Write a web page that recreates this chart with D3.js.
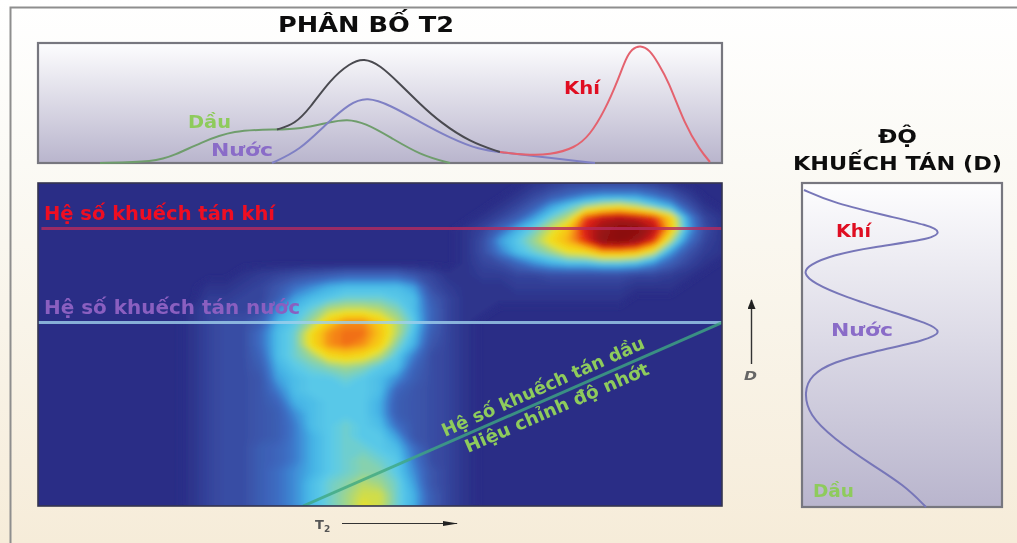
<!DOCTYPE html>
<html>
<head>
<meta charset="utf-8">
<script src="https://cdn.jsdelivr.net/npm/d3@7"></script>
<style>
  html, body { margin: 0; padding: 0; overflow: hidden; background: #fff; }
  svg { display: block; }
  text { font-family: "DejaVu Sans", sans-serif; font-weight: 700; }
</style>
</head>
<body>
<svg id="chart" width="1017" height="543"></svg>
<script>
// T2 distribution curves, [T2, amplitude]
const oilT2 = [[62,0],[117,1],[137,8],[162,20],[195,33],[239,33.5],[262,34],[292,41],[309,44],[327,40],[352,26],[382,8],[412,0]];
const waterT2 = [[234,0],[262,13],[287,38],[312,60],[329,66],[352,58],[382,41],[412,25],[442,13],[462,11],[512,5],[557,0]];
const totalT2 = [[239,33.5],[257,39],[272,55],[292,83],[312,100],[326,105],[342,98],[362,79],[382,59],[402,41],[432,21],[462,11]];
const gasT2 = [[462,11],[487,8],[512,8],[537,15],[552,28],[567,53],[580,83],[588,105],[594,114],[602,118],[612,113],[620,100],[630,83],[647,38],[662,13],[672,1]];

// diffusion profile, [amplitude, D position]
const profileD = [[2,7],[31,20],[90,34],[125,42],[141,49],[125,57],[70,64],[31,72],[7,82],[1,90],[11,100],[43,114],[90,129],[125,140],[141,149],[125,157],[70,169],[31,179],[9,192],[2,209],[7,232],[31,255],[70,282],[102,302],[124,324]];

// T2-D map, one character per cell, level in base 36
const heatStart = [29,28,27,26,25,25,25,25,12,10,10,9,9,9,9,9,9,9,9,9,9,9,9,9,9,9,9,9,9];
const heatRows = [
  "123333321",
  "13579aaa852",
  "136behjkifc51",
  "136bfiruvusmb31",
  "137cfjntxzzvnc41",
  "14behlosyzxsi931",
  "149dfhkloonjb521",
  "1347acddeeda631",
  "12345677775311223344444332100",
  "112358acddddb421112222222111",
  "22336bdefffed631111111111",
  "13334adfijjigd7311",
  "13446cehmppmie731",
  "13448dflpqqnid631",
  "13448dflpqpmgc531",
  "13447dfhlmlie9431",
  "13446cefghged7431",
  "13445bdeefeda6431",
  "134459deeeed75431",
  "134457cdeeec65431",
  "134456adeeec65431",
  "1344569defed85431",
  "1344569cefeeb5431",
  "1344679ceffed8431",
  "1344679cefgfe9431",
  "134468acefggea531",
  "134468adfgihfb531",
  "134468adfhjjfc631",
  "134468adfhkjfc631"
];
const heatLevels = [0, 4, 8, 10, 12, 14, 17, 20, 23, 25, 28, 32, 35];
const heatColors = ["#2a2d86", "#3a50a6", "#3d6fc4", "#3f90d8", "#45b4e6", "#5ccbe8", "#a4d684", "#f0e21f", "#f8c015", "#f58a12", "#e32312", "#a01414", "#8a1010"];

// reference lines on the map, [column, row]
const gasLine = [[0.2, 3.95], [40, 3.95]];
const waterLine = [[0, 12.1], [40, 12.1]];
const oilLine = [[15.5, 28], [40, 12.1]];

const svg = d3.select("#chart");
const defs = svg.append("defs");

function vGradient(id, stops) {
    const g = defs.append("linearGradient").attr("id", id)
        .attr("x1", 0).attr("y1", 0).attr("x2", 0).attr("y2", 1);
    stops.forEach(s => g.append("stop").attr("offset", s[0]).attr("stop-color", s[1]));
}
vGradient("page-bg", [[0, "#ffffff"], [0.3, "#fbfaf5"], [1, "#f6ecd9"]]);
vGradient("panel-bg", [[0, "#fdfdfe"], [1, "#b9b5cd"]]);

defs.append("filter").attr("id", "soft").attr("x", "-5%").attr("y", "-5%").attr("width", "110%").attr("height", "110%")
    .append("feGaussianBlur").attr("stdDeviation", 2.4);
defs.append("filter").attr("id", "soft-text").attr("x", "-5%").attr("y", "-20%").attr("width", "110%").attr("height", "140%")
    .append("feGaussianBlur").attr("stdDeviation", 0.45);
defs.append("clipPath").attr("id", "map-clip").append("rect")
    .attr("x", 38).attr("y", 183).attr("width", 684).attr("height", 323);

svg.append("rect").attr("width", 1017).attr("height", 543).attr("fill", "url(#page-bg)");
svg.append("path").attr("d", "M10.5,543V7.5H1017").attr("fill", "none").attr("stroke", "#8e8e8e").attr("stroke-width", 2);

// top panel
const t2X = d3.scaleLinear().domain([0, 684]).range([38, 722]);
const t2Y = d3.scaleLinear().domain([0, 120]).range([163, 43]);
const t2Line = d3.line().x(d => t2X(d[0])).y(d => t2Y(d[1])).curve(d3.curveBasis);

function panel(x, y, w, h) {
    svg.append("rect").attr("x", x).attr("y", y).attr("width", w).attr("height", h)
        .attr("fill", "url(#panel-bg)").attr("stroke", "#77777f").attr("stroke-width", 2.2);
}
panel(38, 43, 684, 120);

[[oilT2, "#6f9d6c"], [waterT2, "#7f80c4"], [totalT2, "#4a4a50"], [gasT2, "#e4626e"]].forEach(s => {
    svg.append("path").attr("d", t2Line(s[0])).attr("fill", "none")
        .attr("stroke", s[1]).attr("stroke-width", 2);
});

// map
const mapX = d3.scaleLinear().domain([0, 40]).range([38, 722]);
const mapY = d3.scaleLinear().domain([0, 28]).range([183, 506]);
const heatColor = d3.scaleLinear().domain(heatLevels).range(heatColors).clamp(true);

const nCols = 41;
const nRows = heatRows.length;
const heatValues = [];
heatRows.forEach((row, j) => {
    for (let i = 0; i < nCols; i++) {
        const ch = row[i - heatStart[j]];
        heatValues.push(ch ? parseInt(ch, 36) : 0);
    }
});

const contours = d3.contours().size([nCols, nRows]).thresholds(d3.range(0.25, 35, 0.5))(heatValues);
const heatPath = d3.geoPath(d3.geoTransform({
    point(x, y) { this.stream.point(mapX(x - 0.5), mapY(y - 0.5)); }
}));

const mapG = svg.append("g").attr("clip-path", "url(#map-clip)");
mapG.append("rect").attr("x", 38).attr("y", 183).attr("width", 684).attr("height", 323).attr("fill", heatColors[0]);
mapG.append("g").attr("filter", "url(#soft)")
    .selectAll("path").data(contours).join("path")
    .attr("d", heatPath)
    .attr("fill", d => heatColor(d.value));

const mapLine = d3.line().x(d => mapX(d[0])).y(d => mapY(d[1]));
[[gasLine, "#b52a5c"], [waterLine, "#9fd0ec"], [oilLine, "#3fa882"]].forEach(s => {
    mapG.append("path").attr("d", mapLine(s[0])).attr("stroke", s[1])
        .attr("stroke-width", 3).attr("opacity", 0.8).attr("fill", "none");
});
svg.append("rect").attr("x", 38).attr("y", 183).attr("width", 684).attr("height", 323)
    .attr("fill", "none").attr("stroke", "#35354f").attr("stroke-width", 1.6);

// right panel
const dX = d3.scaleLinear().domain([0, 200]).range([802, 1002]);
const dY = d3.scaleLinear().domain([0, 324]).range([183, 507]);
panel(802, 183, 200, 324);
svg.append("path")
    .attr("d", d3.line().x(d => dX(d[0])).y(d => dY(d[1])).curve(d3.curveBasis)(profileD))
    .attr("fill", "none").attr("stroke", "#7776b8").attr("stroke-width", 2);

// labels, widths follow the stretched lettering of the picture
const labels = svg.append("g").attr("filter", "url(#soft-text)");
function label(str, x, y, size, color, width) {
    return labels.append("text").attr("x", x).attr("y", y).attr("font-size", size)
        .attr("fill", color).attr("textLength", width).attr("lengthAdjust", "spacingAndGlyphs").text(str);
}
label("PHÂN BỐ T2", 278, 32, 22, "#111", 176);
label("ĐỘ", 878, 143, 20, "#111", 39);
label("KHUẾCH TÁN (D)", 793, 170, 20, "#111", 209);

label("Dầu", 188, 128, 18, "#8ecb5c", 43);
label("Nước", 211, 155.5, 18, "#8a6cc8", 62);
label("Khí", 564, 94, 18, "#e01020", 36);
label("Khí", 836, 237, 18, "#df1020", 35);
label("Nước", 831, 336, 18, "#8a6cc8", 62);
label("Dầu", 813, 497, 18, "#8ecb5c", 41);

label("Hệ số khuếch tán khí", 44, 220, 19, "#f01020", 231);
label("Hệ số khuếch tán nước", 44, 314, 19, "#8a5fc0", 256);

label("Hệ số khuếch tán dầu", null, null, 18, "#8ecb5c", 220)
    .attr("transform", "translate(445,437) rotate(-24)");
label("Hiệu chỉnh độ nhớt", null, null, 18, "#8ecb5c", 199)
    .attr("transform", "translate(468,453) rotate(-23.5)");

// axis arrows
function arrowHead(id, w, h) {
    defs.append("marker").attr("id", id).attr("viewBox", `0 0 ${w} ${h}`).attr("refX", w - 1).attr("refY", h / 2)
        .attr("markerWidth", w).attr("markerHeight", h).attr("markerUnits", "userSpaceOnUse").attr("orient", "auto")
        .append("path").attr("d", `M0,0L${w},${h / 2}L0,${h}Z`).attr("fill", "#222");
}
arrowHead("arrow-t", 15, 5);
arrowHead("arrow-d", 10, 8);
svg.append("line").attr("x1", 342).attr("y1", 523.5).attr("x2", 457).attr("y2", 523.5)
    .attr("stroke", "#333").attr("stroke-width", 1).attr("marker-end", "url(#arrow-t)");
svg.append("line").attr("x1", 751.5).attr("y1", 364).attr("x2", 751.5).attr("y2", 300)
    .attr("stroke", "#333").attr("stroke-width", 1.4).attr("marker-end", "url(#arrow-d)");

const t2Label = label("T", 315, 529, 13, "#555");
t2Label.append("tspan").attr("dy", 3).attr("font-size", 9).text("2");
label("D", 744, 380, 13, "#666", 13).attr("font-style", "italic");
</script>
</body>
</html>
